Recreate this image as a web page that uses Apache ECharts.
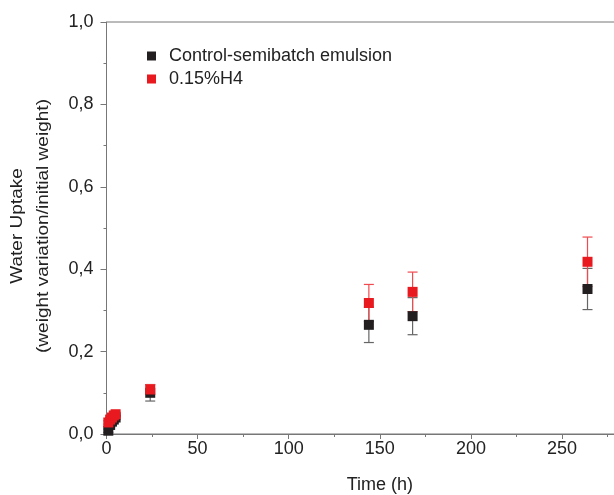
<!DOCTYPE html>
<html><head><meta charset="utf-8">
<script src="https://cdn.jsdelivr.net/npm/echarts@6/dist/echarts.min.js"></script>
<style>html,body{margin:0;padding:0;background:#fff}#c{width:614px;height:495px}</style>
</head><body><div id="c"></div>
<script>
const controlTime = [1, 2, 3, 4, 5, 24, 144, 168, 264];
const controlVal  = [0.008, 0.022, 0.030, 0.035, 0.040, 0.100, 0.265, 0.286, 0.352];
const controlErr  = [0.004, 0.005, 0.005, 0.005, 0.005, 0.020, 0.043, 0.045, 0.050];
const h4Time = [1, 2, 3, 4, 5, 24, 144, 168, 264];
const h4Val  = [0.028, 0.035, 0.040, 0.045, 0.048, 0.108, 0.318, 0.345, 0.418];
const h4Err  = [0.004, 0.005, 0.005, 0.005, 0.005, 0.012, 0.045, 0.048, 0.060];
const seriesNames = ['Control-semibatch emulsion', '0.15%H4'];
const colors = ['#231f20', '#e8191f'];
const errColors = ['#666666', '#f04a4f'];

function pts(t, v) { return t.map((x, i) => [x, v[i]]); }
function errData(t, v, e) { return t.map((x, i) => [x, v[i] - e[i], v[i] + e[i]]); }
function errSeries(data, color) {
  return {
    type: 'custom', silent: true, data: data, z: 1,
    renderItem: function (params, api) {
      const x = api.value(0);
      const lo = api.coord([x, api.value(1)]);
      const hi = api.coord([x, api.value(2)]);
      const w = 5;
      const st = { stroke: color, lineWidth: 1.2 };
      return { type: 'group', children: [
        { type: 'line', shape: { x1: lo[0], y1: lo[1], x2: hi[0], y2: hi[1] }, style: st },
        { type: 'line', shape: { x1: lo[0] - w, y1: lo[1], x2: lo[0] + w, y2: lo[1] }, style: st },
        { type: 'line', shape: { x1: hi[0] - w, y1: hi[1], x2: hi[0] + w, y2: hi[1] }, style: st }
      ]};
    }
  };
}
const axisCol = '#777777';
const txt = '#222222';
const chart = echarts.init(document.getElementById('c'));
chart.setOption({
  animation: false,
  textStyle: { fontFamily: 'Liberation Sans, Arial, sans-serif' },
  grid: { left: 106.5, top: 22, width: 546.6, height: 412, show: true, borderColor: axisCol, borderWidth: 1,
    containLabel: false, outerBoundsMode: 'none' },
  legend: {
    left: 142, top: 42, orient: 'vertical', itemWidth: 9, itemHeight: 9, itemGap: 5,
    icon: 'rect', textStyle: { fontSize: 18, color: txt, padding: [0, 0, 0, 8] },
    data: seriesNames
  },
  xAxis: {
    type: 'value', min: 0, max: 300, interval: 50,
    name: 'Time (h)', nameLocation: 'middle', nameGap: 42,
    nameTextStyle: { fontSize: 18, color: txt },
    axisLine: { lineStyle: { color: axisCol } },
    axisTick: { length: 5, lineStyle: { color: axisCol } },
    minorTick: { show: true, splitNumber: 2, length: 3, lineStyle: { color: axisCol } },
    axisLabel: { fontSize: 18, color: txt, margin: 6 },
    splitLine: { show: false }
  },
  yAxis: {
    type: 'value', min: 0, max: 1, interval: 0.2,
    axisLine: { show: true, lineStyle: { color: axisCol } },
    axisTick: { show: true, length: 6, lineStyle: { color: axisCol } },
    minorTick: { show: true, splitNumber: 2, length: 3, lineStyle: { color: axisCol } },
    axisLabel: { fontSize: 18, color: txt, margin: 13, formatter: v => v.toFixed(1).replace('.', ',') },
    splitLine: { show: false }
  },
  graphic: [{
    type: 'text', x: 30, y: 226, rotation: Math.PI / 2, scaleX: 1.12,
    style: { text: 'Water Uptake\n(weight variation/initial weight)', fill: txt,
      font: '17px Liberation Sans, Arial, sans-serif', align: 'center', verticalAlign: 'middle', lineHeight: 26 }
  }],
  series: [
    errSeries(errData(controlTime, controlVal, controlErr), errColors[0]),
    { name: seriesNames[0], type: 'scatter', symbol: 'rect', symbolSize: 10, data: pts(controlTime, controlVal),
      itemStyle: { color: colors[0], opacity: 1 }, z: 2 },
    errSeries(errData(h4Time, h4Val, h4Err), errColors[1]),
    { name: seriesNames[1], type: 'scatter', symbol: 'rect', symbolSize: 10, data: pts(h4Time, h4Val),
      itemStyle: { color: colors[1], opacity: 1 }, z: 3 }
  ]
});
</script></body></html>
